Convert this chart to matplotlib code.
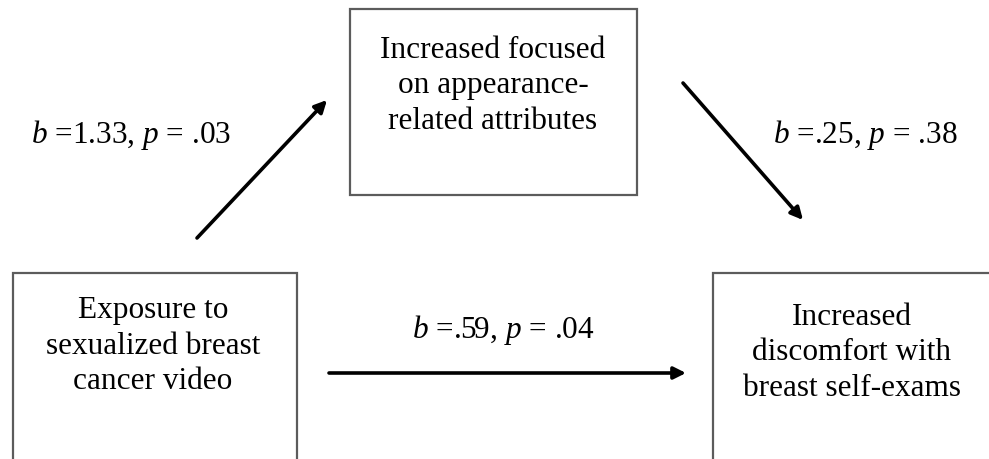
import matplotlib.pyplot as plt
from matplotlib.patches import Rectangle

plt.rcParams['font.family'] = 'Liberation Serif'
plt.rcParams['mathtext.fontset'] = 'custom'
plt.rcParams['mathtext.rm'] = 'Liberation Serif'
plt.rcParams['mathtext.it'] = 'Liberation Serif:italic'

# Variáveis do modelo de mediação
variaveis = ['Exposure to\nsexualized breast\ncancer video',
             'Increased focused\non appearance-\nrelated attributes',
             'Increased\ndiscomfort with\nbreast self-exams']

# Coeficientes dos caminhos: a (X->M), b (M->Y), c' (X->Y)
caminhos = ['a', 'b', 'c']
coef_b = ['1.33', '.25', '.59']
coef_p = ['.03', '.38', '.04']

# Layout em pixels (x, y, largura, altura) das caixas
caixas = [(13, 273, 284, 220), (350, 9, 287, 186), (713, 273, 300, 220)]
centro_texto = [(153, 346), (493, 86), (852, 353)]

# Setas (inicio, fim) e posição dos rótulos
setas = [((197, 238), (327, 100)), ((683, 83), (803, 220)), ((329, 373), (686, 373))]
pos_rotulo = [(131, 135), (865, 135), (503, 330)]

fig = plt.figure(figsize=(9.89, 4.59), dpi=100)
ax = fig.add_axes([0, 0, 1, 1])
ax.set_xlim(0, 989)
ax.set_ylim(459, 0)
ax.axis('off')

for (x, y, w, h), (cx, cy), nome in zip(caixas, centro_texto, variaveis):
    ax.add_patch(Rectangle((x, y), w, h, facecolor='white', edgecolor='#5c5c5c', lw=1.6))
    ax.text(cx, cy, nome, ha='center', va='center', fontsize=22.5, linespacing=1.28)

for (ini, fim), (lx, ly), b, p in zip(setas, pos_rotulo, coef_b, coef_p):
    ax.annotate('', xy=fim, xytext=ini,
                arrowprops=dict(arrowstyle='-|>', color='black', lw=2.6,
                                mutation_scale=18, shrinkA=0, shrinkB=0))
    ax.text(lx, ly, f'$b$ ={b}, $p$ = {p}', ha='center', va='center', fontsize=22.5)

plt.savefig('out.png', dpi=100)
